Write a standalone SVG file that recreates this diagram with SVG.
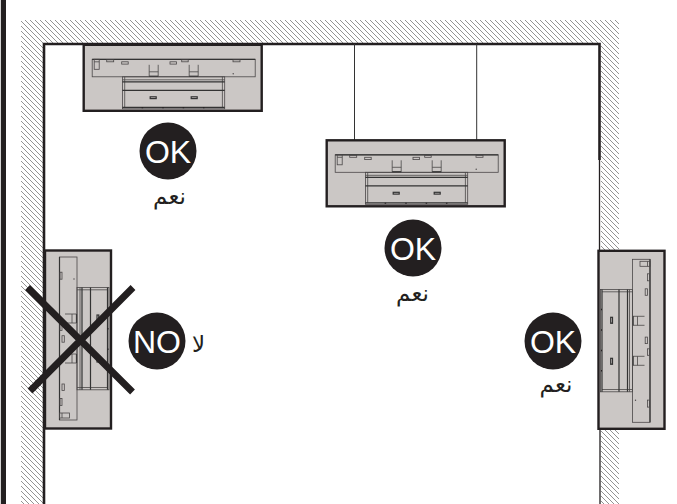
<svg xmlns="http://www.w3.org/2000/svg" width="677" height="504" viewBox="0 0 677 504">
<style>
.body{fill:#cbc7c5;stroke:#231f20;stroke-width:2.400}
.ln{fill:none;stroke:#4a4748;stroke-width:.8}
.hv{fill:none;stroke:#333;stroke-width:1.200}
.wall{fill:none;stroke:#231f20;stroke-width:2.600}
.badge{fill:#231f20}
.lat{font-family:"Liberation Sans",Arial,sans-serif;font-size:32px;fill:#fff;text-anchor:middle}
.ar{font-family:"DejaVu Sans","Noto Sans",sans-serif;font-size:23px;fill:#231f20;text-anchor:middle}
.x{stroke:#231f20;stroke-width:6.800;fill:none}
</style>
<defs>
<pattern id="hatch" width="5" height="5" patternUnits="userSpaceOnUse">
<path d="M-1 -1L6 6M-1 4L1 6M4 -1L6 1" stroke="#777" stroke-width=".8" fill="none"/>
</pattern>
<g id="unit">
<rect class="body" width="178" height="66"/>
<rect class="ln" x="8.500" y="14.500" width="163" height="17.500"/>
<path class="hv" d="M8.500 14.500H171.500"/>
<rect class="ln" x="10.500" y="14.500" width="5" height="10"/>
<path class="ln" d="M10.500 17H15.500"/>
<rect class="ln" x="23" y="15" width="7" height="2"/>
<rect class="ln" x="38" y="17" width="6.500" height="2.300"/>
<rect class="ln" x="86.300" y="17" width="6.500" height="2.300"/>
<rect class="ln" x="98" y="15" width="6.500" height="2"/>
<rect class="ln" x="149.300" y="15" width="7" height="2"/>
<path class="ln" d="M65.500 20V31.500H74.500V20M65.500 27H74.500M105.500 20V31.500H114.500V20M105.500 27H114.500"/>
<path class="hv" d="M65.500 31.500H74.500M105.500 31.500H114.500"/>
<circle cx="149.500" cy="29" r=".7" fill="#4a4748"/>
<rect class="ln" x="38.700" y="32" width="102.300" height="32"/>
<path class="ln" d="M41 32V62.500M138.700 32V62.500M38.700 35H141"/>
<path class="hv" d="M38.700 37H141M38.700 45.500H141M38.700 62.500H141"/>
<rect class="hv" x="66.500" y="52" width="6" height="1.800"/>
<rect class="hv" x="107.500" y="52" width="6" height="1.800"/>
<path d="M58.700 62.500v1M79.300 62.500v1M99.700 62.500v1M120 62.500v1" stroke="#231f20" stroke-width="1.500"/>
</g>
</defs>
<rect width="677" height="504" fill="#fff"/>
<g id="wall">
<rect x="0.800" y="0" width="5.200" height="504" fill="#231f20"/>
<path fill="url(#hatch)" d="M21 20H619V250H601V44H44V504H21ZM601 429H619V504H601Z"/>
<path class="wall" d="M44 504V44H599.500V160"/>
<path d="M599.500 160V250M600 429V504" fill="none" stroke="#231f20" stroke-width="1.300"/>
</g>
<g id="connectors">
<path d="M354.500 44V140M476.700 44V140" fill="none" stroke="#333" stroke-width="1"/>
</g>
<g id="unit-top"><use href="#unit" transform="translate(83.700 44.800)"/></g>
<g id="unit-middle"><use href="#unit" transform="translate(326.700 140.300)"/></g>
<g id="unit-left"><use href="#unit" transform="translate(45 428.500) rotate(-90)"/></g>
<g id="unit-right"><use href="#unit" transform="translate(664.500 250.800) rotate(90)"/></g>
<g id="cross">
<path class="x" d="M27.500 287.500L132.500 392M133 287.500L30 391"/>
</g>
<g id="badge-ok-top">
<circle class="badge" cx="168" cy="151" r="28.500"/>
<text class="lat" x="168" y="163">OK</text>
<text class="ar" x="169.500" y="204">نعم</text>
</g>
<g id="badge-ok-middle">
<circle class="badge" cx="413" cy="248" r="28.500"/>
<text class="lat" x="413" y="260">OK</text>
<text class="ar" x="412.500" y="301">نعم</text>
</g>
<g id="badge-ok-right">
<circle class="badge" cx="553" cy="341" r="28.500"/>
<text class="lat" x="553" y="353">OK</text>
<text class="ar" x="556" y="392">نعم</text>
</g>
<g id="badge-no">
<circle class="badge" cx="157" cy="341" r="28.500"/>
<text class="lat" x="157" y="353">NO</text>
<text class="ar" x="198.500" y="352">لا</text>
</g>
</svg>
